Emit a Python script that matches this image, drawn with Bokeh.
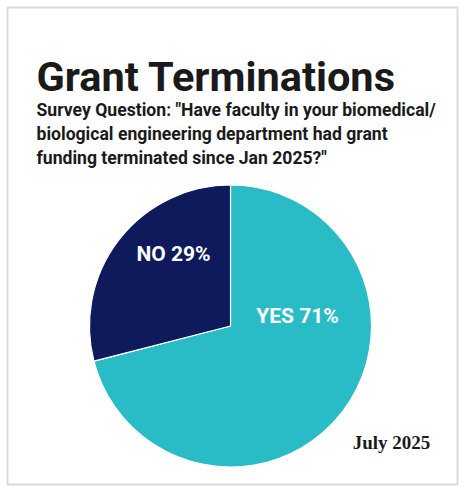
import numpy as np
from bokeh.plotting import figure
from bokeh.models import Label, Range1d, ColumnDataSource
from bokeh.embed import file_html
from bokeh.resources import INLINE

# ---- data ----
categories = ["YES", "NO"]
shares = [71, 29]
colors = ["#29BCC7", "#0F1A5C"]
title_text = "Grant Terminations"
subtitle_lines = [
    'Survey Question: "Have faculty in your biomedical/',
    'biological engineering department had grant',
    'funding terminated since Jan 2025?"',
]
date_text = "July 2025"

# ---- layout (figure pixel coordinates, y measured from the top -> H - y) ----
W, H = 460, 486
p = figure(width=W, height=H, output_backend="svg", toolbar_location=None,
           x_range=Range1d(0, W), y_range=Range1d(0, H),
           min_border=0, match_aspect=False)
p.axis.visible = False
p.grid.visible = False
p.outline_line_color = None
p.background_fill_color = "white"
p.border_fill_color = "white"

# card border
p.quad(left=[7], right=[457], top=[H - 7], bottom=[H - 484],
       fill_color=None, line_color="#dadada", line_width=2)

# pie geometry
cx, cy, r = 230, H - 325.5, 141
frac = np.array(shares, dtype=float) / sum(shares)
# YES clockwise from top, NO counter-clockwise from top
ends = [np.pi / 2, np.pi / 2 + 2 * np.pi * frac[1]]
starts = [np.pi / 2 - 2 * np.pi * frac[0], np.pi / 2]
src = ColumnDataSource(dict(cat=categories, start=starts, end=ends, color=colors,
                            x=[cx, cx], y=[cy, cy]))
p.wedge(x="x", y="y", radius=r, start_angle="start", end_angle="end",
        fill_color="color", line_color="white", line_width=1.2, source=src)

# slice labels
label_pos = {"YES": (297, H - 315), "NO": (173, H - 253)}
for c, s in zip(categories, shares):
    lx, ly = label_pos[c]
    p.add_layout(Label(x=lx, y=ly, text=f"{c} {s}%", text_align="center",
                       text_baseline="middle", text_color="white",
                       text_font="Roboto", text_font_style="bold",
                       text_font_size="21px"))

# title and subtitle
p.add_layout(Label(x=36, y=H - 76, text=title_text, text_font="Roboto",
                   text_font_style="bold", text_font_size="41.5px",
                   text_color="#1a1a1a", text_baseline="alphabetic"))
for i, line in enumerate(subtitle_lines):
    p.add_layout(Label(x=36, y=H - (109 + 24 * i), text=line, text_font="Roboto",
                       text_font_style="bold", text_font_size="17.6px",
                       text_color="#1a1a1a", text_baseline="alphabetic"))

p.add_layout(Label(x=391, y=H - 442, text=date_text, text_font="Liberation Serif",
                   text_font_style="bold", text_font_size="19px",
                   text_color="#1a1a1a", text_align="center", text_baseline="middle"))

open("out.html", "w").write(file_html(p, INLINE))
